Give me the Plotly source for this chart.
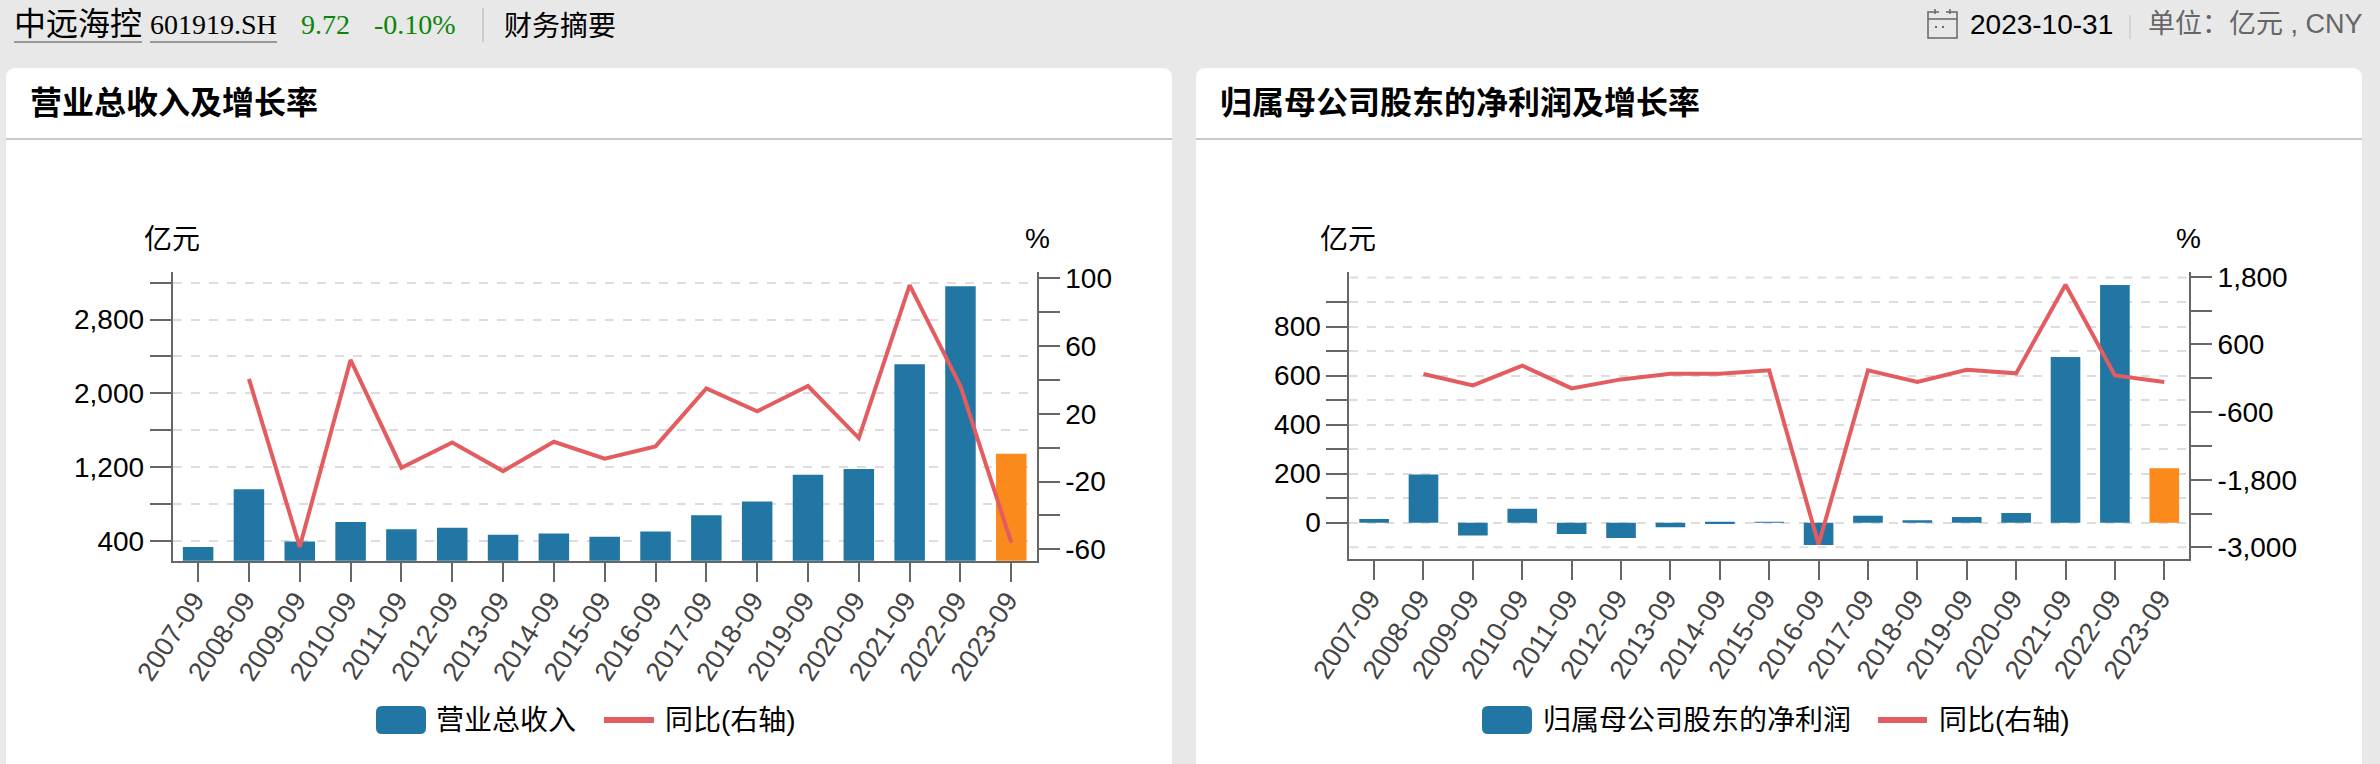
"""Financial summary page: revenue and net profit bars with YoY lines."""
import plotly.graph_objects as go

W, H = 2380, 764
SANS = "Liberation Sans, Noto Sans CJK SC, sans-serif"
SERIF = "Liberation Serif, Noto Sans CJK SC, serif"
INK = "#000000"
AXIS = "#666666"
GRID = "#dddddd"
BLUE = "#2176a3"
ORANGE = "#f98a1b"
RED = "#e35d60"

periods = [
    "2007-09", "2008-09", "2009-09", "2010-09", "2011-09", "2012-09",
    "2013-09", "2014-09", "2015-09", "2016-09", "2017-09", "2018-09",
    "2019-09", "2020-09", "2021-09", "2022-09", "2023-09",
]
revenue = [332, 960, 393, 603, 526, 541, 465, 479, 443, 501, 677, 825, 1117, 1178, 2314, 3161, 1344]
revenue_yoy = [None, 40.6, -58.5, 51.8, -11.8, 3.1, -13.8, 3.5, -6.5, 0.8, 35, 21.5, 36.4, 5.7, 96, 36.4, -56]
profit = [15, 197, -52, 57, -46, -63, -19, -5, 1, -91, 28, 10, 23, 39, 676, 970, 222]
profit_yoy = [None, 74, -127, 222, -180, -21, 80, 80, 139, -2947, 139, -68, 151, 86, 1658, 50, -68]

rev_ticks = [400, 800, 1200, 1600, 2000, 2400, 2800, 3200]
rev_labels = ["400", "", "1,200", "", "2,000", "", "2,800", ""]
rev_yoy_ticks = [-60, -40, -20, 0, 20, 40, 60, 80, 100]
rev_yoy_labels = ["-60", "", "-20", "", "20", "", "60", "", "100"]
prof_ticks = [0, 100, 200, 300, 400, 500, 600, 700, 800, 900]
prof_labels = ["0", "", "200", "", "400", "", "600", "", "800", ""]
prof_extra_grid = [-100, 1000]
prof_yoy_ticks = [-3000, -2400, -1800, -1200, -600, 0, 600, 1200, 1800]
prof_yoy_labels = ["-3,000", "", "-1,800", "", "-600", "", "600", "", "1,800"]


def px(x):
    return x / W


def py(y):
    return 1 - y / H


def panel_path(x0, x1, y0, r=10):
    """White card with rounded top corners, running off the bottom of the page."""
    return (
        f"M {px(x0)} 0 L {px(x0)} {py(y0 + r)} Q {px(x0)} {py(y0)} {px(x0 + r)} {py(y0)} "
        f"L {px(x1 - r)} {py(y0)} Q {px(x1)} {py(y0)} {px(x1)} {py(y0 + r)} L {px(x1)} 0 Z"
    )


def swatch_path(x0, x1, y0, y1, r=6):
    return (
        f"M {px(x0 + r)} {py(y0)} L {px(x1 - r)} {py(y0)} Q {px(x1)} {py(y0)} {px(x1)} {py(y0 + r)} "
        f"L {px(x1)} {py(y1 - r)} Q {px(x1)} {py(y1)} {px(x1 - r)} {py(y1)} "
        f"L {px(x0 + r)} {py(y1)} Q {px(x0)} {py(y1)} {px(x0)} {py(y1 - r)} "
        f"L {px(x0)} {py(y0 + r)} Q {px(x0)} {py(y0)} {px(x0 + r)} {py(y0)} Z"
    )


def pshape(kind, x0, y0, x1, y1, **kw):
    return dict(type=kind, xref="paper", yref="paper", x0=px(x0), x1=px(x1), y0=py(y0), y1=py(y1), **kw)


def label(x, y, text, size, color=INK, family=SANS, anchor="left"):
    return dict(
        xref="paper", yref="paper", x=px(x), y=py(y), text=text, showarrow=False,
        xanchor=anchor, yanchor="middle", borderpad=0, borderwidth=0,
        font=dict(size=size, color=color, family=family),
    )


def bar_colors(n):
    return [BLUE] * (n - 1) + [ORANGE]


fig = go.Figure()
fig.add_trace(go.Bar(x=periods, y=revenue, marker=dict(color=bar_colors(len(periods)), line_width=0),
                     name="营业总收入", xaxis="x", yaxis="y"))
fig.add_trace(go.Scatter(x=periods, y=revenue_yoy, mode="lines", name="同比(右轴)",
                         line=dict(color=RED, width=4), xaxis="x", yaxis="y2"))
fig.add_trace(go.Bar(x=periods, y=profit, marker=dict(color=bar_colors(len(periods)), line_width=0),
                     name="归属母公司股东的净利润", xaxis="x2", yaxis="y3"))
fig.add_trace(go.Scatter(x=periods, y=profit_yoy, mode="lines", name="同比(右轴)",
                         line=dict(color=RED, width=4), xaxis="x2", yaxis="y4"))

tick_common = dict(
    ticks="outside", ticklen=21, tickwidth=2, tickcolor=AXIS, automargin=False,
    showline=True, linecolor=AXIS, linewidth=2, zeroline=False,
    tickmode="array", tickfont=dict(size=28, color=INK, family=SANS),
)
x_common = dict(
    type="category", categoryorder="array", categoryarray=periods, automargin=False,
    ticks="outside", ticklen=19, tickwidth=2, tickcolor=AXIS,
    showline=True, linecolor=AXIS, linewidth=2, showgrid=False,
    tickangle=-57, tickfont=dict(size=27, color="#444444", family=SANS),
    ticklabelstandoff=-8, ticklabelshift=-4,
)
grid = dict(showgrid=True, gridcolor=GRID, gridwidth=2, griddash="dash")

shapes = [
    dict(type="path", xref="paper", yref="paper", path=panel_path(6, 1172, 68), fillcolor="white", line_width=0, layer="below"),
    dict(type="path", xref="paper", yref="paper", path=panel_path(1196, 2362, 68), fillcolor="white", line_width=0, layer="below"),
    pshape("line", 6, 139, 1172, 139, line=dict(color="#c8c8c8", width=2), layer="below"),
    pshape("line", 1196, 139, 2362, 139, line=dict(color="#c8c8c8", width=2), layer="below"),
    # header underlines and dividers
    pshape("line", 14, 42, 142, 42, line=dict(color="#999999", width=2)),
    pshape("line", 150, 42, 277, 42, line=dict(color="#999999", width=2)),
    pshape("line", 483, 8, 483, 42, line=dict(color="#cccccc", width=2)),
    pshape("line", 2130, 15, 2130, 39, line=dict(color="#d4d4d4", width=2)),
    # calendar icon
    pshape("rect", 1928, 12, 1957, 38, line=dict(color=AXIS, width=1.5)),
    pshape("line", 1928, 19, 1957, 19, line=dict(color=AXIS, width=1.5)),
    pshape("line", 1935, 9, 1935, 14, line=dict(color=AXIS, width=1.5)),
    pshape("line", 1950, 9, 1950, 14, line=dict(color=AXIS, width=1.5)),
    pshape("line", 1939, 12, 1946, 12, line=dict(color="#e8e8e8", width=2)),
    pshape("rect", 1935, 26, 1937, 28, fillcolor=AXIS, line_width=0),
    pshape("rect", 1942, 26, 1944, 28, fillcolor=AXIS, line_width=0),
    # legend swatches
    dict(type="path", xref="paper", yref="paper", path=swatch_path(376, 426, 706, 734), fillcolor=BLUE, line_width=0),
    pshape("line", 604, 720, 654, 720, line=dict(color=RED, width=6)),
    dict(type="path", xref="paper", yref="paper", path=swatch_path(1482, 1532, 706, 734), fillcolor=BLUE, line_width=0),
    pshape("line", 1878, 720, 1927, 720, line=dict(color=RED, width=6)),
]
# the net profit grid has two lines beyond the labelled ticks
for v in prof_extra_grid:
    shapes.append(dict(type="line", xref="x2 domain", yref="y3", x0=0, x1=1, y0=v, y1=v,
                       line=dict(color=GRID, width=2, dash="dash"), layer="below"))

annotations = [
    label(14, 24, "中远海控", 32),
    label(150, 25, "601919.SH", 28, family=SERIF),
    label(301, 25, "9.72", 28, color="#0c850c", family=SERIF),
    label(374, 25, "-0.10%", 28, color="#0c850c", family=SERIF),
    label(504, 26, "财务摘要", 28),
    label(1970, 24, "2023-10-31", 28),
    label(2148, 24, "单位：亿元 , CNY", 27, color="#666666"),
    label(30, 103, "<b>营业总收入及增长率</b>", 32),
    label(1220, 103, "<b>归属母公司股东的净利润及增长率</b>", 32),
    label(144, 239, "亿元", 28),
    label(1025, 238, "%", 28),
    label(1320, 239, "亿元", 28),
    label(2176, 238, "%", 28),
    label(436, 720, "营业总收入", 28),
    label(665, 720, "同比(右轴)", 28),
    label(1543, 720, "归属母公司股东的净利润", 28),
    label(1939, 720, "同比(右轴)", 28),
]

fig.update_layout(
    width=W, height=H, autosize=False,
    margin=dict(l=0, r=0, t=0, b=0, pad=0),
    paper_bgcolor="#e8e8e8", plot_bgcolor="rgba(0,0,0,0)",
    font=dict(family=SANS, color=INK),
    showlegend=False, bargap=0.4, hovermode="x",
    xaxis=dict(domain=[px(172.7), px(1036.7)], anchor="y", **x_common),
    yaxis=dict(domain=[py(560.7), py(271.7)], anchor="x", range=[184, 3319],
               tickvals=rev_ticks, ticktext=rev_labels, **grid, **tick_common),
    yaxis2=dict(domain=[py(560.7), py(271.7)], anchor="x", overlaying="y", side="right", range=[-66.7, 103.9],
                tickvals=rev_yoy_ticks, ticktext=rev_yoy_labels, showgrid=False, **tick_common),
    xaxis2=dict(domain=[px(1349.4), px(2189)], anchor="y3", **x_common),
    yaxis3=dict(domain=[py(558.7), py(271.7)], anchor="x2", range=[-147, 1024],
                tickvals=prof_ticks, ticktext=prof_labels, **grid, **tick_common),
    yaxis4=dict(domain=[py(558.7), py(271.7)], anchor="x2", overlaying="y3", side="right", range=[-3201, 1889],
                tickvals=prof_yoy_ticks, ticktext=prof_yoy_labels, showgrid=False, **tick_common),
    shapes=shapes,
    annotations=annotations,
)

fig.write_html("out.html", config=dict(displayModeBar=False),
               post_script="document.body.style.margin='0';")
